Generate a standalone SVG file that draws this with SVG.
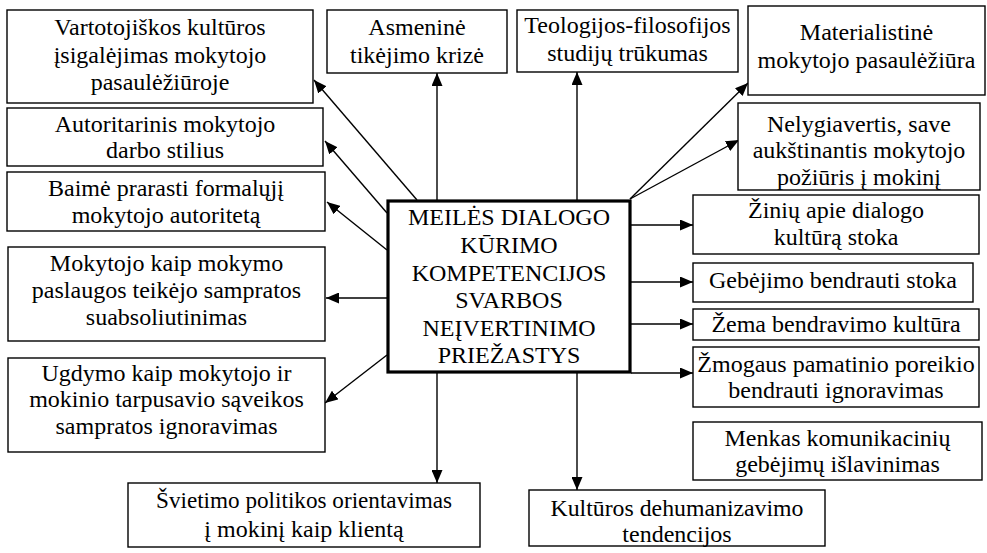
<svg xmlns="http://www.w3.org/2000/svg" width="987" height="553" viewBox="0 0 987 553">
<style>
.box{fill:#fff;stroke:#000;stroke-width:1.4}
.main{fill:#fff;stroke:#000;stroke-width:3.2}
.c line{stroke:#000;stroke-width:1.4;marker-end:url(#ah)}
</style>
<defs>
<marker id="ah" markerUnits="userSpaceOnUse" markerWidth="14" markerHeight="11" refX="13" refY="5.5" orient="auto">
<path d="M0,0 L13,5.5 L0,11 z" fill="#000"/>
</marker>
</defs>
<rect width="987" height="553" fill="#fff"/>
<g class="c" id="connectors">
<line x1="417" y1="200" x2="314" y2="80"/>
<line x1="387" y1="213" x2="325" y2="141"/>
<line x1="387" y1="250" x2="327" y2="202"/>
<line x1="387" y1="298" x2="326" y2="298"/>
<line x1="387" y1="355" x2="325" y2="403"/>
<line x1="437" y1="373" x2="437" y2="483"/>
<line x1="437" y1="200" x2="437" y2="73"/>
<line x1="577" y1="200" x2="577" y2="72"/>
<line x1="630" y1="199" x2="748" y2="83"/>
<line x1="630" y1="199" x2="739" y2="140"/>
<line x1="631" y1="225" x2="693" y2="225"/>
<line x1="631" y1="282" x2="693" y2="282"/>
<line x1="631" y1="324" x2="693" y2="324"/>
<line x1="631" y1="373" x2="693" y2="373"/>
<line x1="577" y1="373" x2="577" y2="490"/>
</g>
<g font-family="'Liberation Serif', serif" font-size="24" text-anchor="middle" fill="#000">
<g id="center">
<rect class="main" x="388" y="201" width="242" height="171"/>
<text x="509" y="225">MEILĖS DIALOGO</text>
<text x="509" y="253">KŪRIMO</text>
<text x="509" y="281">KOMPETENCIJOS</text>
<text x="509" y="308">SVARBOS</text>
<text x="509" y="336">NEĮVERTINIMO</text>
<text x="509" y="363">PRIEŽASTYS</text>
</g>
<g id="n1">
<rect class="box" x="7" y="10" width="306" height="93"/>
<text x="160" y="35">Vartotojiškos kultūros</text>
<text x="160" y="63">įsigalėjimas mokytojo</text>
<text x="160" y="90">pasaulėžiūroje</text>
</g>
<g id="n2">
<rect class="box" x="327" y="10" width="180" height="63"/>
<text x="417" y="35">Asmeninė</text>
<text x="417" y="63">tikėjimo krizė</text>
</g>
<g id="n3">
<rect class="box" x="517" y="10" width="221" height="62"/>
<text x="627.5" y="33">Teologijos-filosofijos</text>
<text x="627.5" y="61">studijų trūkumas</text>
</g>
<g id="n4">
<rect class="box" x="748" y="6" width="237" height="89"/>
<text x="866.5" y="40">Materialistinė</text>
<text x="866.5" y="68">mokytojo pasaulėžiūra</text>
</g>
<g id="n5">
<rect class="box" x="738" y="103" width="242" height="87"/>
<text x="859" y="132">Nelygiavertis, save</text>
<text x="859" y="158">aukštinantis mokytojo</text>
<text x="859" y="185">požiūris į mokinį</text>
</g>
<g id="n6">
<rect class="box" x="7" y="108" width="316" height="58"/>
<text x="165" y="132">Autoritarinis mokytojo</text>
<text x="165" y="158">darbo stilius</text>
</g>
<g id="n7">
<rect class="box" x="7" y="172" width="318" height="59"/>
<text x="166" y="196">Baimė prarasti formalųjį</text>
<text x="166" y="223">mokytojo autoritetą</text>
</g>
<g id="n8">
<rect class="box" x="8" y="247" width="317" height="94"/>
<text x="166.5" y="271">Mokytojo kaip mokymo</text>
<text x="166.5" y="298">paslaugos teikėjo sampratos</text>
<text x="166.5" y="325">suabsoliutinimas</text>
</g>
<g id="n9">
<rect class="box" x="8" y="358" width="317" height="94"/>
<text x="166.5" y="381">Ugdymo kaip mokytojo ir</text>
<text x="166.5" y="407">mokinio tarpusavio sąveikos</text>
<text x="166.5" y="434">sampratos ignoravimas</text>
</g>
<g id="n10">
<rect class="box" x="128" y="483" width="352" height="64"/>
<text x="304" y="508" textLength="296" lengthAdjust="spacingAndGlyphs">Švietimo politikos orientavimas</text>
<text x="304" y="537">į mokinį kaip klientą</text>
</g>
<g id="n11">
<rect class="box" x="529" y="490" width="296" height="56"/>
<text x="677" y="516" textLength="253" lengthAdjust="spacingAndGlyphs">Kultūros dehumanizavimo</text>
<text x="677" y="542">tendencijos</text>
</g>
<g id="n12">
<rect class="box" x="693" y="195" width="286" height="59"/>
<text x="836" y="218">Žinių apie dialogo</text>
<text x="836" y="245">kultūrą stoka</text>
</g>
<g id="n13">
<rect class="box" x="693" y="263" width="280" height="39"/>
<text x="833" y="288">Gebėjimo bendrauti stoka</text>
</g>
<g id="n14">
<rect class="box" x="693" y="309" width="286" height="31"/>
<text x="836" y="332">Žema bendravimo kultūra</text>
</g>
<g id="n15">
<rect class="box" x="693" y="347" width="286" height="60"/>
<text x="836" y="372">Žmogaus pamatinio poreikio</text>
<text x="836" y="398">bendrauti ignoravimas</text>
</g>
<g id="n16">
<rect class="box" x="693" y="422" width="289" height="58"/>
<text x="837.5" y="446">Menkas komunikacinių</text>
<text x="837.5" y="472">gebėjimų išlavinimas</text>
</g>
</g>
</svg>
